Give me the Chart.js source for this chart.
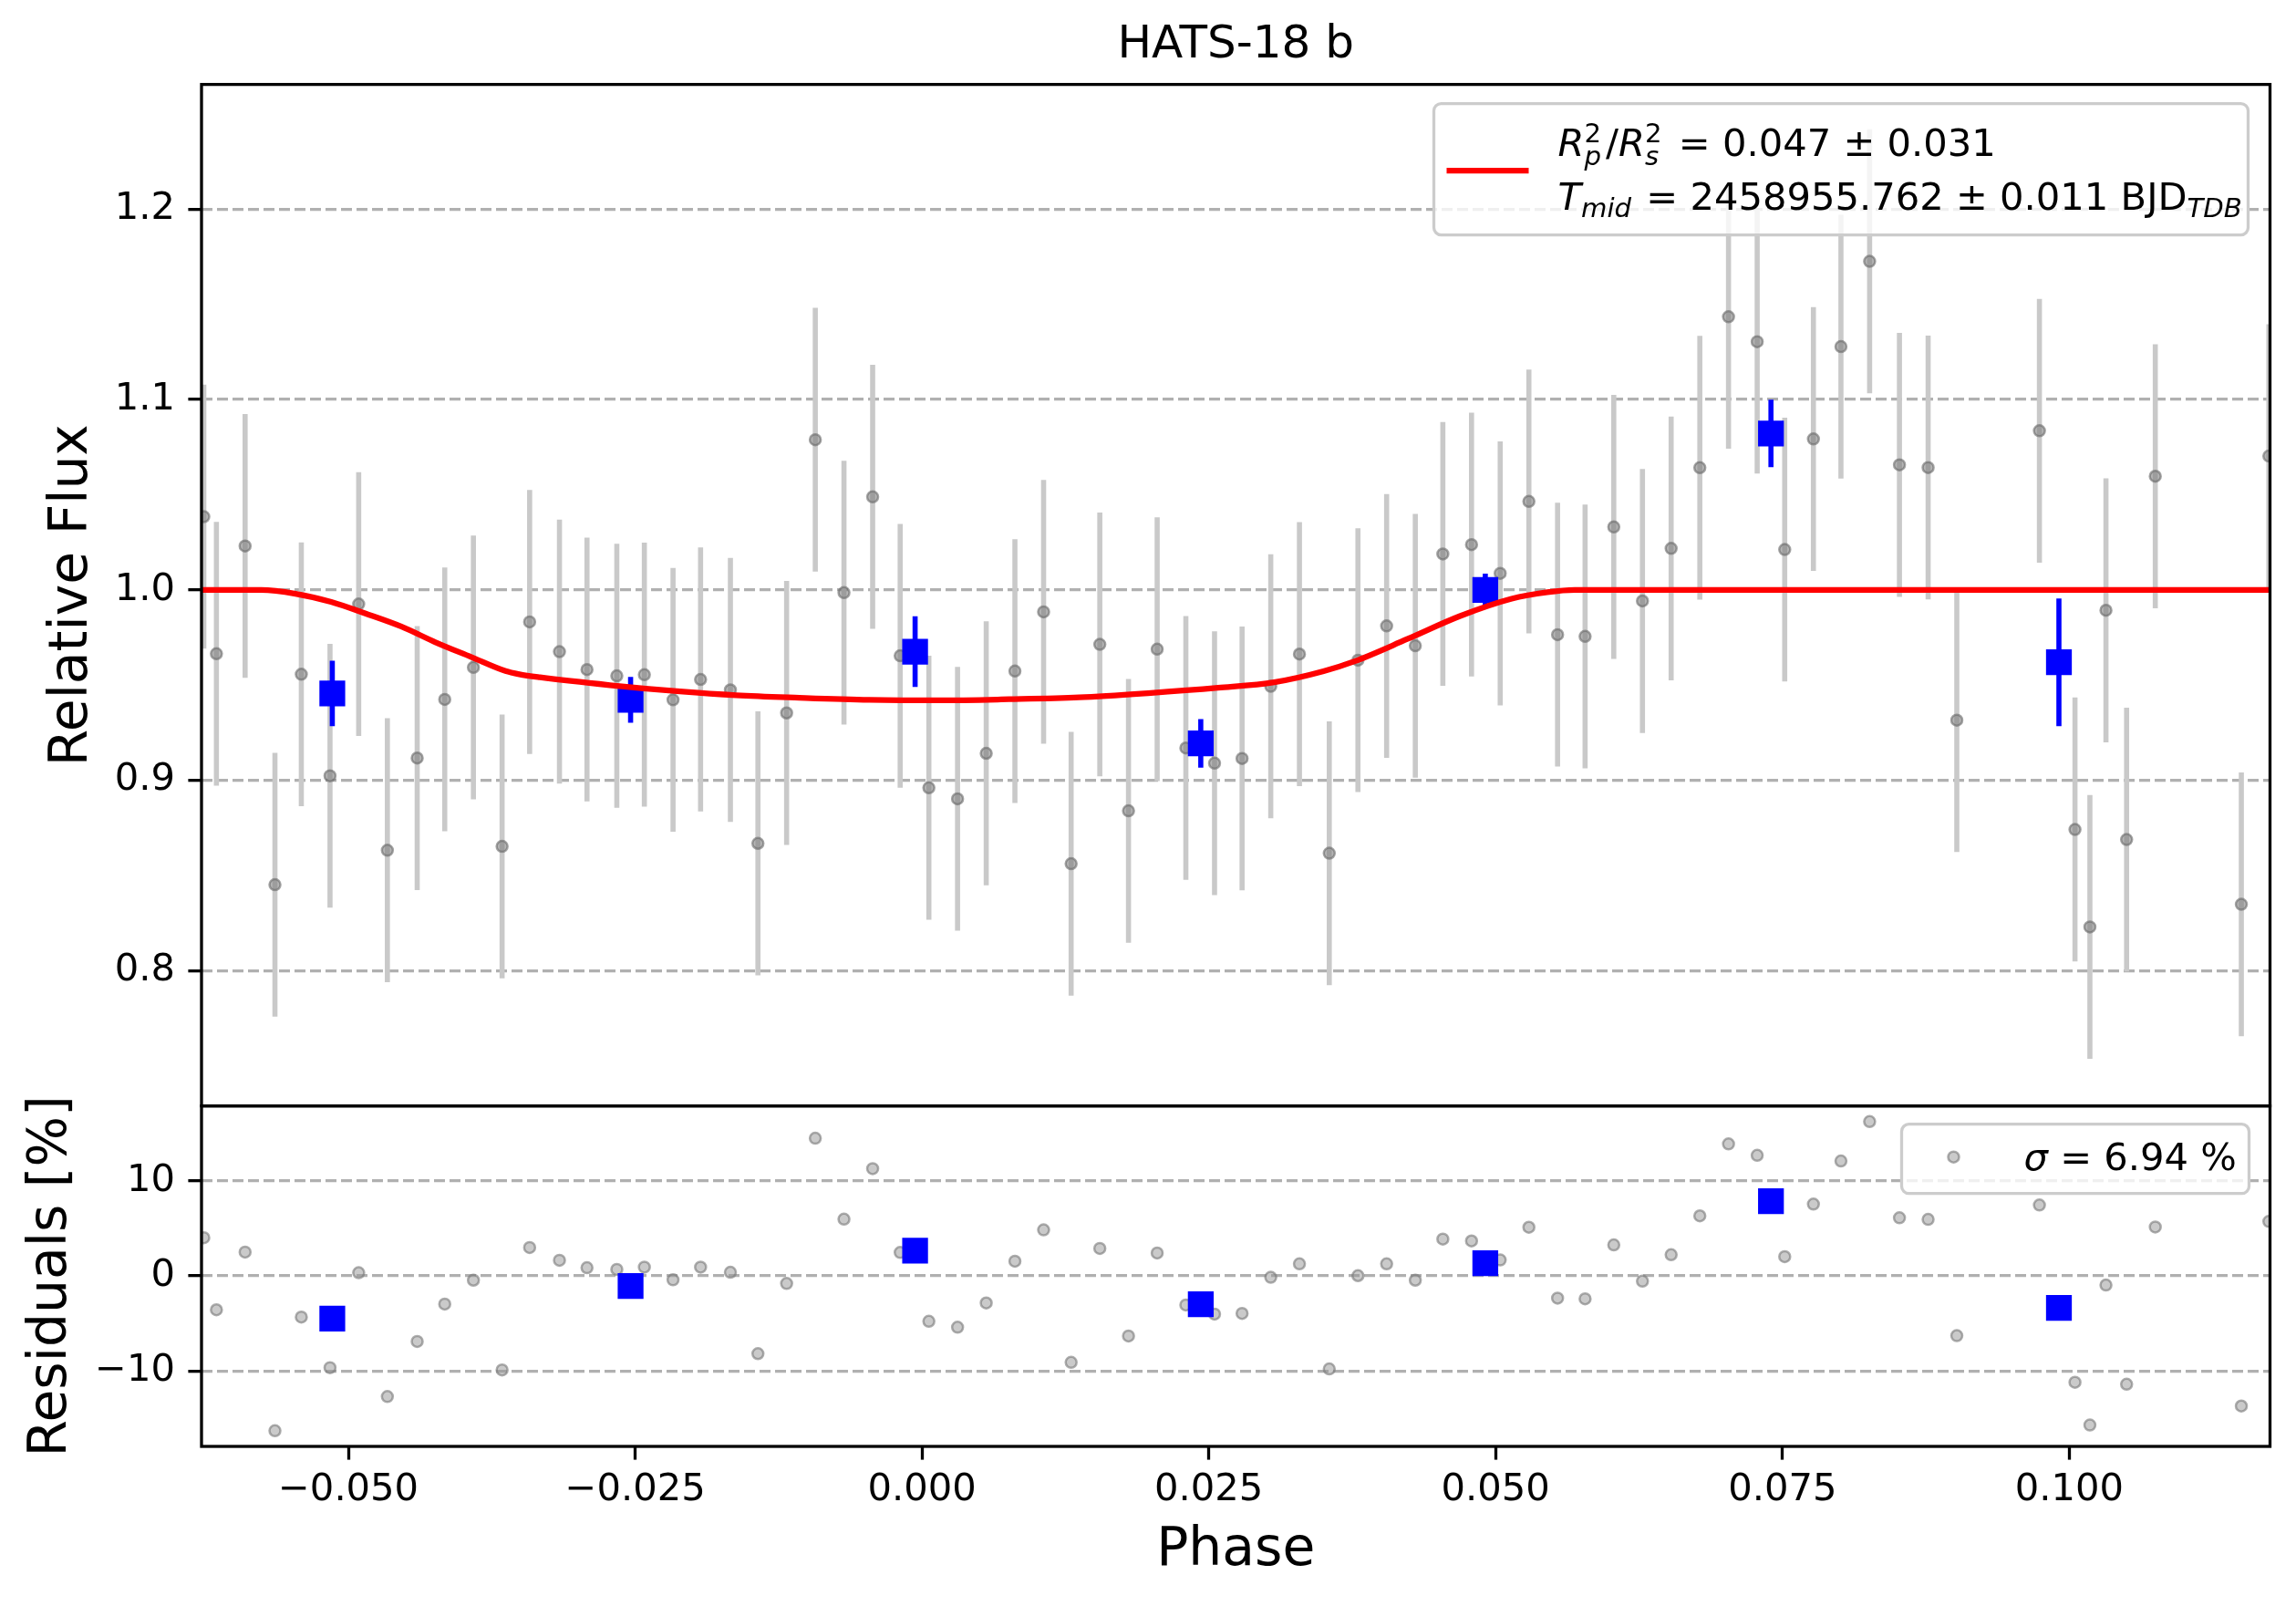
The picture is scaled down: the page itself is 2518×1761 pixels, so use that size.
<!DOCTYPE html>
<html lang="en">
<head>
    <meta charset="UTF-8">
    <title>HATS-18 b</title>
    <script src="https://cdn.jsdelivr.net/npm/chart.js"></script>
    <style>
        html, body {
            margin: 0;
            padding: 0;
            background: #fff;
            overflow: hidden;
        }
        canvas {
            display: block;
        }
    </style>
</head>
<body>
    <canvas id="lcChart" width="2518" height="1761"></canvas>

    <script>
        // unbinned data (grey)
        const phase = [-0.0626, -0.0615, -0.0590, -0.0564, -0.0541, -0.0516, -0.0491, -0.0466, -0.0440, -0.0416,
            -0.0391, -0.0366, -0.0342, -0.0316, -0.0292, -0.0266, -0.0242, -0.0217, -0.0193, -0.0167,
            -0.0143, -0.0118, -0.0093, -0.0068, -0.0043, -0.0019, 0.0006, 0.0031, 0.0056, 0.0081,
            0.0106, 0.0130, 0.0155, 0.0180, 0.0205, 0.0230, 0.0255, 0.0279, 0.0304, 0.0329,
            0.0355, 0.0380, 0.0405, 0.0430, 0.0454, 0.0479, 0.0504, 0.0529, 0.0554, 0.0578,
            0.0603, 0.0628, 0.0653, 0.0678, 0.0703, 0.0728, 0.0752, 0.0777, 0.0801, 0.0826,
            0.0852, 0.0877, 0.0902, 0.0974, 0.1005, 0.1018, 0.1032, 0.1050, 0.1075, 0.1150, 0.1174];
        const flux = [1.0385, 0.9665, 1.0231, 0.8452, 0.9557, 0.9024, 0.9926, 0.8633, 0.9117, 0.9425,
            0.9593, 0.8653, 0.9832, 0.9676, 0.9582, 0.9549, 0.9555, 0.9423, 0.9530, 0.9475,
            0.8669, 0.9354, 1.0789, 0.9986, 1.0489, 0.9654, 0.8961, 0.8903, 0.9142, 0.9574,
            0.9885, 0.8562, 0.9714, 0.8840, 0.9689, 0.9170, 0.9090, 0.9115, 0.9494, 0.9663,
            0.8617, 0.9631, 0.9811, 0.9707, 1.0189, 1.0238, 1.0087, 1.0465, 0.9765, 0.9756,
            1.0331, 0.9942, 1.0218, 1.0642, 1.1435, 1.1304, 1.0212, 1.0793, 1.1278, 1.1726,
            1.0657, 1.0643, 0.9316, 1.0836, 0.8742, 0.8230, 0.9893, 0.8689, 1.0597, 0.8349, 1.0703];
        const fluxErr = 0.0693;  // same for every point
        const resid = [4.02, -3.57, 2.51, -16.3, -4.33, -9.66, 0.34, -12.7, -6.9, -2.96,
            -0.45, -9.9, 2.99, 1.65, 0.86, 0.69, 0.93, -0.41, 0.93, 0.38,
            -8.18, -0.79, 14.5, 5.98, 11.3, 2.47, -4.78, -5.40, -2.85, 1.55,
            4.85, -9.1, 2.89, -6.32, 2.41, -3.06, -4.02, -3.95, -0.14, 1.27,
            -9.79, 0.03, 1.27, -0.45, 3.88, 3.68, 1.68, 5.12, -2.34, -2.41,
            3.26, -0.55, 2.23, 6.32, 13.9, 12.7, 2.03, 7.56, 12.1, 16.25,
            6.12, 5.95, -6.29, 7.46, -11.2, -15.7, -0.96, -11.4, 5.15, -13.7, 5.74];

        // binned data (blue)
        const binPhase = [-0.0514, -0.0254, -0.0006, 0.0243, 0.0491, 0.0740, 0.0991];
        const binFlux = [0.9456, 0.9423, 0.9676, 0.9194, 1.0000, 1.0822, 0.9620];
        const binErr = [0.0172, 0.0120, 0.0186, 0.0128, 0.0086, 0.0177, 0.0335];
        const binResid = [-4.50, -1.07, 2.65, -2.99, 1.34, 7.87, -3.37];

        // transit model (red)
        const modelPhase = [-0.0628, -0.0576, -0.0546, -0.0515, -0.0485, -0.0454, -0.0424, -0.0393, -0.0363, -0.0351,
            -0.0333, -0.0272, -0.0211, -0.0162, -0.0107, -0.0046, 0.0015, 0.0076, 0.0137, 0.0197,
            0.0258, 0.0307, 0.0350, 0.0377, 0.0423, 0.0469, 0.0514, 0.0545, 0.0569, 0.1175];
        const modelFlux = [1.0, 1.0, 0.998, 0.9937, 0.9876, 0.9808, 0.9725, 0.9648, 0.9574, 0.9557,
            0.9541, 0.9500, 0.9467, 0.9447, 0.9434, 0.9423, 0.9420, 0.9426, 0.9436, 0.9458,
            0.9486, 0.9515, 0.9573, 0.9625, 0.9742, 0.9863, 0.9954, 0.9988, 1.0, 1.0];

        const xTicks = [-0.050, -0.025, 0.000, 0.025, 0.050, 0.075, 0.100];
        const fluxTicks = [0.8, 0.9, 1.0, 1.1, 1.2];
        const residTicks = [-10, 0, 10];

        const xMin = -0.0628, xMax = 0.1175;
        const fluxMin = 0.729, fluxMax = 1.2655;
        const residMin = -17.95, residMax = 17.9;

        const FONT = '"DejaVu Sans", sans-serif';
        const TICK_PX = 41.67;    // 10 pt at 300 dpi
        const SCRIPT_PX = 29.2;
        Chart.defaults.font.family = FONT;
        Chart.defaults.color = '#000';

        const minus = v => (v < 0 ? '\u2212' : '');
        const pts = (xs, ys) => xs.map((x, i) => ({x: x, y: ys[i]}));

        // vertical error bars, drawn right before the dataset they belong to
        const errorBars = {
            id: 'errorBars',
            beforeDatasetDraw(chart, args) {
                const ds = chart.data.datasets[args.index];
                if (!ds.errors) return;
                const xs = chart.scales.x, ys = chart.scales[ds.yAxisID];
                const a = chart.chartArea, ctx = chart.ctx;
                ctx.save();
                ctx.beginPath();
                ctx.rect(a.left, a.top, a.right - a.left, a.bottom - a.top);
                ctx.clip();
                ctx.strokeStyle = ds.errorColor;
                ctx.lineWidth = ds.errorWidth;
                ds.data.forEach((p, i) => {
                    const e = Array.isArray(ds.errors) ? ds.errors[i] : ds.errors;
                    const px = xs.getPixelForValue(p.x);
                    ctx.beginPath();
                    ctx.moveTo(px, ys.getPixelForValue(p.y - e));
                    ctx.lineTo(px, ys.getPixelForValue(p.y + e));
                    ctx.stroke();
                });
                ctx.restore();
            }
        };

        function box(ctx, x, y, w, h) {
            ctx.beginPath();
            if (ctx.roundRect) ctx.roundRect(x, y, w, h, 8);
            else ctx.rect(x, y, w, h);
            ctx.fillStyle = 'rgba(255,255,255,0.8)';
            ctx.fill();
            ctx.strokeStyle = '#cccccc';
            ctx.lineWidth = 3.3;
            ctx.stroke();
        }

        // text with sub/superscripts, parts marked hold share the x of the next part
        function drawRich(ctx, x, y, parts) {
            let held = 0;
            parts.forEach(p => {
                ctx.font = (p.it ? 'italic ' : '') + (p.s || TICK_PX) + 'px ' + FONT;
                ctx.fillText(p.t, x, y + (p.dy || 0));
                const w = ctx.measureText(p.t).width;
                if (p.hold) { held = w; return; }
                x += Math.max(w, held) + (p.gap || 0);
                held = 0;
            });
        }

        // panel frames and the two legends
        const panels = {
            id: 'panels',
            afterDatasetsDraw(chart) {
                const ctx = chart.ctx, a = chart.chartArea;
                ctx.save();
                ctx.strokeStyle = '#000';
                ctx.lineWidth = 3.3;
                ['y', 'yRes'].forEach(id => {
                    const s = chart.scales[id];
                    ctx.strokeRect(a.left, s.top, a.right - a.left, s.bottom - s.top);
                });
                ctx.restore();
            },
            afterDraw(chart) {
                const ctx = chart.ctx, a = chart.chartArea;
                const ym = chart.scales.y, yr = chart.scales.yRes;
                ctx.save();
                ctx.textAlign = 'left';
                ctx.textBaseline = 'alphabetic';
                ctx.fillStyle = '#000';

                // model legend
                let bw = 893, bh = 144;
                let bx = a.right - 24 - bw, by = ym.top + 21;
                box(ctx, bx, by, bw, bh);
                ctx.strokeStyle = '#ff0000';
                ctx.lineWidth = 6.25;
                ctx.beginPath();
                ctx.moveTo(bx + 14, by + 73.5);
                ctx.lineTo(bx + 104, by + 73.5);
                ctx.stroke();
                ctx.fillStyle = '#000';
                drawRich(ctx, bx + 136, by + 57, [
                    {t: 'R', it: true},
                    {t: '2', s: SCRIPT_PX, dy: -15, hold: true},
                    {t: 'p', s: SCRIPT_PX, it: true, dy: 10, gap: 5},
                    {t: '/'},
                    {t: 'R', it: true},
                    {t: '2', s: SCRIPT_PX, dy: -15, hold: true},
                    {t: 's', s: SCRIPT_PX, it: true, dy: 10, gap: 5},
                    {t: ' = 0.047 \u00b1 0.031'}
                ]);
                drawRich(ctx, bx + 136, by + 116, [
                    {t: 'T', it: true},
                    {t: 'mid', s: SCRIPT_PX, it: true, dy: 8, gap: 3},
                    {t: ' = 2458955.762 \u00b1 0.011 BJD'},
                    {t: 'TDB', s: SCRIPT_PX, it: true, dy: 8}
                ]);

                // residual legend
                bw = 381; bh = 76;
                bx = a.right - 23 - bw; by = yr.top + 20;
                box(ctx, bx, by, bw, bh);
                ctx.beginPath();
                ctx.arc(bx + 57, by + 36, 6, 0, Math.PI * 2);
                ctx.fillStyle = 'rgba(150,150,150,0.5)';
                ctx.fill();
                ctx.strokeStyle = 'rgba(120,120,120,0.6)';
                ctx.lineWidth = 2.5;
                ctx.stroke();
                ctx.fillStyle = '#000';
                drawRich(ctx, bx + 134, by + 50, [
                    {t: '\u03c3', it: true},
                    {t: ' = 6.94 %'}
                ]);
                ctx.restore();
            }
        };

        const yGrid = {
            color: '#b0b0b0', lineWidth: 3.3, borderDash: [12, 5],
            tickColor: '#000', tickWidth: 3.3, tickLength: 14.6
        };

        const ctx = document.getElementById('lcChart').getContext('2d');
        const lcChart = new Chart(ctx, {
            type: 'scatter',
            data: {
                datasets: [
                    {
                        type: 'line',
                        data: pts(modelPhase, modelFlux),
                        yAxisID: 'y',
                        showLine: true,
                        borderColor: '#ff0000',
                        borderWidth: 6.25,
                        pointRadius: 0,
                        cubicInterpolationMode: 'monotone'
                    },
                    {
                        data: pts(binPhase, binFlux),
                        yAxisID: 'y',
                        errors: binErr, errorColor: '#0000ff', errorWidth: 5.6,
                        pointStyle: 'rect', pointRadius: 20,
                        backgroundColor: '#0000ff', borderWidth: 0
                    },
                    {
                        data: pts(binPhase, binResid),
                        yAxisID: 'yRes',
                        pointStyle: 'rect', pointRadius: 20,
                        backgroundColor: '#0000ff', borderWidth: 0
                    },
                    {
                        data: pts(phase, flux),
                        yAxisID: 'y',
                        errors: fluxErr, errorColor: '#c9c9c9', errorWidth: 5.6,
                        pointRadius: 6,
                        backgroundColor: 'rgba(120,120,120,0.55)',
                        borderColor: 'rgba(105,105,105,0.6)',
                        borderWidth: 2.5
                    },
                    {
                        data: pts(phase, resid),
                        yAxisID: 'yRes',
                        pointRadius: 6,
                        backgroundColor: 'rgba(150,150,150,0.5)',
                        borderColor: 'rgba(120,120,120,0.6)',
                        borderWidth: 2.5
                    }
                ]
            },
            options: {
                responsive: false,
                devicePixelRatio: 1,
                animation: false,
                events: [],
                layout: { padding: { left: 0, right: 28.5, top: 0, bottom: 0 } },
                plugins: {
                    legend: { display: false },
                    tooltip: { enabled: false },
                    title: {
                        display: true,
                        text: 'HATS-18 b',
                        fullSize: false,
                        color: '#000',
                        font: { size: 50, weight: 'normal' },
                        padding: { top: 20.4, bottom: 12.2 }
                    }
                },
                scales: {
                    x: {
                        type: 'linear',
                        position: 'bottom',
                        min: xMin,
                        max: xMax,
                        afterBuildTicks: s => { s.ticks = xTicks.map(v => ({value: v})); },
                        afterFit: s => { s.height = 175; },
                        ticks: {
                            font: { size: TICK_PX },
                            padding: 9,
                            autoSkip: false,
                            maxRotation: 0,
                            callback: v => minus(v) + Math.abs(v).toFixed(3)
                        },
                        grid: { drawOnChartArea: false, tickColor: '#000', tickWidth: 3.3, tickLength: 14.6 },
                        border: { display: false },
                        title: { display: true, text: 'Phase', font: { size: 58.33 }, padding: { top: 0, bottom: 25.6 } }
                    },
                    yRes: {
                        type: 'linear',
                        position: 'left',
                        stack: 'panels',
                        stackWeight: 1,
                        min: residMin,
                        max: residMax,
                        afterBuildTicks: s => { s.ticks = residTicks.map(v => ({value: v})); },
                        afterFit: s => { s.width = 221; },
                        ticks: {
                            font: { size: TICK_PX },
                            padding: 14.4,
                            callback: v => minus(v) + Math.abs(v)
                        },
                        grid: yGrid,
                        border: { display: false, dash: [12, 5] },
                        title: { display: true, text: 'Residuals [%]', font: { size: 58.33 }, padding: { top: 21.8, bottom: 0 } }
                    },
                    y: {
                        type: 'linear',
                        position: 'left',
                        stack: 'panels',
                        stackWeight: 3,
                        min: fluxMin,
                        max: fluxMax,
                        afterBuildTicks: s => { s.ticks = fluxTicks.map(v => ({value: v})); },
                        afterFit: s => { s.width = 221; },
                        ticks: {
                            font: { size: TICK_PX },
                            padding: 14.4,
                            callback: v => v.toFixed(1)
                        },
                        grid: yGrid,
                        border: { display: false, dash: [12, 5] },
                        title: { display: true, text: 'Relative Flux', font: { size: 58.33 }, padding: { top: 44.8, bottom: 0 } }
                    }
                }
            },
            plugins: [errorBars, panels]
        });
    </script>
</body>
</html>
